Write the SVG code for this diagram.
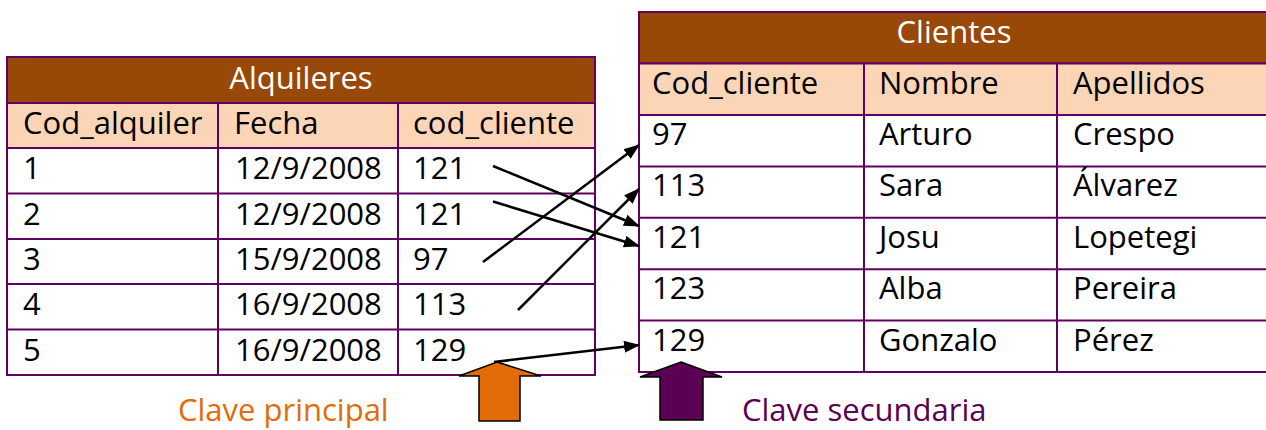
<svg xmlns="http://www.w3.org/2000/svg" width="1266" height="430" viewBox="0 0 1266 430">
<defs>
<style>
.t{font-family:"Open Sans","Liberation Sans",sans-serif;font-size:31px;fill:#000}
.tt{font-family:"Open Sans","Liberation Sans",sans-serif;font-size:31px;fill:#fff;text-anchor:middle}
.title{fill:#984807;stroke:#600060;stroke-width:2}
.head{fill:#fbd5b5;stroke:#600060;stroke-width:2}
.cell{fill:#fff;stroke:#600060;stroke-width:2}
.ln{stroke:#600060;stroke-width:2}
.con{stroke:#000;stroke-width:2.5;fill:none;marker-end:url(#ah)}
</style>
<marker id="ah" markerUnits="userSpaceOnUse" markerWidth="18" markerHeight="14" refX="15" refY="6" orient="auto" viewBox="0 0 18 14">
<path d="M0,0 L16,6 L0,12 z" fill="#000"/>
</marker>
</defs>
<g id="alquileres">
<rect class="title" x="7" y="57" width="588" height="46"/>
<text class="tt" x="301" y="89">Alquileres</text>
<rect class="head" x="7" y="103" width="588" height="45"/>
<rect class="cell" x="7" y="148" width="588" height="227"/>
<line class="ln" x1="7" y1="193.5" x2="595" y2="193.5"/>
<line class="ln" x1="7" y1="239" x2="595" y2="239"/>
<line class="ln" x1="7" y1="284" x2="595" y2="284"/>
<line class="ln" x1="7" y1="329.5" x2="595" y2="329.5"/>
<line class="ln" x1="218" y1="103" x2="218" y2="375"/>
<line class="ln" x1="398" y1="103" x2="398" y2="375"/>
<text class="t" x="23" y="134">Cod_alquiler</text>
<text class="t" x="234" y="134">Fecha</text>
<text class="t" x="413" y="134">cod_cliente</text>
<text class="t" x="23" y="179">1</text><text class="t" x="235" y="179">12/9/2008</text><text class="t" x="413" y="179">121</text>
<text class="t" x="23" y="224.5">2</text><text class="t" x="235" y="224.5">12/9/2008</text><text class="t" x="413" y="224.5">121</text>
<text class="t" x="23" y="270">3</text><text class="t" x="235" y="270">15/9/2008</text><text class="t" x="413" y="270">97</text>
<text class="t" x="23" y="315">4</text><text class="t" x="235" y="315">16/9/2008</text><text class="t" x="413" y="315">113</text>
<text class="t" x="23" y="360.5">5</text><text class="t" x="235" y="360.5">16/9/2008</text><text class="t" x="413" y="360.5">129</text>
</g>
<g id="clientes">
<rect class="title" x="639" y="12" width="631" height="51.5"/>
<text class="tt" x="954" y="43">Clientes</text>
<rect class="head" x="639" y="63.5" width="631" height="51.5"/>
<rect class="cell" x="639" y="115" width="631" height="257"/>
<line class="ln" x1="639" y1="166.4" x2="1270" y2="166.4"/>
<line class="ln" x1="639" y1="217.8" x2="1270" y2="217.8"/>
<line class="ln" x1="639" y1="269.2" x2="1270" y2="269.2"/>
<line class="ln" x1="639" y1="320.6" x2="1270" y2="320.6"/>
<line class="ln" x1="864" y1="63.5" x2="864" y2="372"/>
<line class="ln" x1="1057" y1="63.5" x2="1057" y2="372"/>
<text class="t" x="652" y="94">Cod_cliente</text><text class="t" x="879" y="94">Nombre</text><text class="t" x="1073" y="94">Apellidos</text>
<text class="t" x="652" y="145">97</text><text class="t" x="879" y="145">Arturo</text><text class="t" x="1073" y="145">Crespo</text>
<text class="t" x="652" y="196.4">113</text><text class="t" x="879" y="196.4">Sara</text><text class="t" x="1073" y="196.4">Álvarez</text>
<text class="t" x="652" y="247.8">121</text><text class="t" x="879" y="247.8">Josu</text><text class="t" x="1073" y="247.8">Lopetegi</text>
<text class="t" x="652" y="299.2">123</text><text class="t" x="879" y="299.2">Alba</text><text class="t" x="1073" y="299.2">Pereira</text>
<text class="t" x="652" y="350.6">129</text><text class="t" x="879" y="350.6">Gonzalo</text><text class="t" x="1073" y="350.6">Pérez</text>
</g>
<g id="clave-principal">
<polygon points="497,362 541,376 520,376 520,421 479,421 479,376 459,376" fill="#e36c09" stroke="#000" stroke-width="1.5"/>
<text class="t" x="178" y="421" style="fill:#e36c09">Clave principal</text>
</g>
<g id="clave-secundaria">
<polygon points="681,362 722,377 703,377 703,420 660,420 660,377 640,377" fill="#5b0052" stroke="#000" stroke-width="1.5"/>
<text class="t" x="742" y="421" style="fill:#5b0052">Clave secundaria</text>
</g>
<g id="connectors">
<line class="con" x1="493" y1="166" x2="639" y2="226"/>
<line class="con" x1="493" y1="201.5" x2="639" y2="246"/>
<line class="con" x1="483" y1="262" x2="639" y2="145"/>
<line class="con" x1="518" y1="310" x2="639" y2="189"/>
<line class="con" x1="494" y1="362" x2="639" y2="345"/>
</g>
</svg>
